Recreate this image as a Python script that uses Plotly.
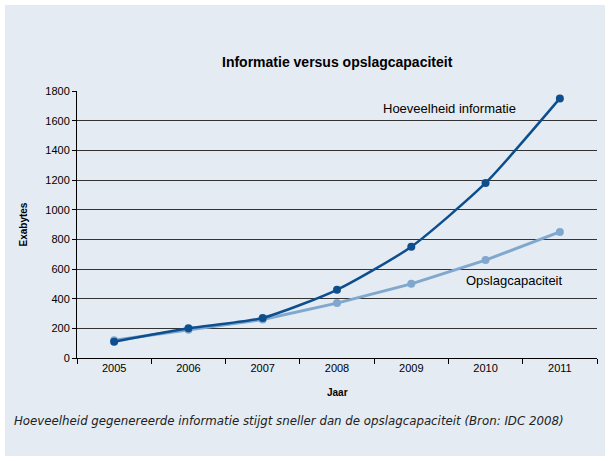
import plotly.graph_objects as go

years = ["2005", "2006", "2007", "2008", "2009", "2010", "2011"]
informatie = [110, 200, 270, 460, 750, 1180, 1750]
opslag = [120, 190, 260, 370, 500, 660, 850]
y_ticks = [0, 200, 400, 600, 800, 1000, 1200, 1400, 1600, 1800]

L, R, T, B = 77, 597, 91, 358
W, H = 610, 461
pw, ph = R - L, B - T

fig = go.Figure()
fig.add_trace(go.Scatter(x=years, y=opslag, mode="lines+markers",
                         line=dict(color="#80A8CF", width=3),
                         marker=dict(size=8, color="#80A8CF"), name="Opslagcapaciteit"))
fig.add_trace(go.Scatter(x=years, y=informatie, mode="lines+markers",
                         line=dict(color="#0D4E8E", width=2.5, shape="spline", smoothing=0.6),
                         marker=dict(size=8, color="#0D4E8E"), name="Hoeveelheid informatie"))

fig.add_shape(type="rect", xref="paper", yref="paper",
              x0=(5 - L) / pw, x1=(605 - L) / pw,
              y0=(B - 456) / ph, y1=(B - 5) / ph,
              fillcolor="#E4EBF2", line=dict(width=0), layer="below")

FONT = "Liberation Sans, Arial, sans-serif"
fig.add_annotation(x=0.5, y=(B - 62) / ph, xref="paper", yref="paper",
                   xanchor="center", yanchor="middle",
                   text="<b>Informatie versus opslagcapaciteit</b>", showarrow=False,
                   font=dict(family=FONT, size=14, color="black"))
fig.add_annotation(x=years.index("2010"), y=1685, text="Hoeveelheid informatie", showarrow=False,
                   xanchor="center", yanchor="middle", xshift=-36,
                   font=dict(family=FONT, size=13, color="black"))
fig.add_annotation(x=years.index("2010"), y=525, text="Opslagcapaciteit", showarrow=False,
                   xanchor="left", yanchor="middle", xshift=-22,
                   font=dict(family=FONT, size=13, color="black"))
fig.add_annotation(x=(12 - L) / pw, y=(B - 421) / ph, xref="paper", yref="paper",
                   xanchor="left", yanchor="middle",
                   text="<i>Hoeveelheid gegenereerde informatie stijgt sneller dan de opslagcapaciteit (Bron: IDC 2008)</i>",
                   showarrow=False, font=dict(family="DejaVu Sans, Verdana", size=11.8, color="#222"))
fig.add_annotation(x=0.5, y=(B - 392) / ph, xref="paper", yref="paper",
                   xanchor="center", yanchor="middle",
                   text="<b>Jaar</b>", showarrow=False,
                   font=dict(family=FONT, size=10, color="black"))
fig.add_annotation(x=(23 - L) / pw, y=0.5, xref="paper", yref="paper", textangle=-90,
                   xanchor="center", yanchor="middle",
                   text="<b>Exabytes</b>", showarrow=False,
                   font=dict(family=FONT, size=10, color="black"))

fig.update_layout(
    width=W, height=H,
    margin=dict(l=L, r=W - R, t=T, b=H - B),
    paper_bgcolor="white", plot_bgcolor="white",
    showlegend=False,
    font=dict(family=FONT, size=11, color="black"),
)
fig.update_xaxes(type="category", range=[-0.5, 6.5], tickson="boundaries",
                 ticks="outside", ticklen=5, tickcolor="black",
                 showline=True, linecolor="black", linewidth=1, showgrid=False,
                 tickfont=dict(size=11))
fig.update_yaxes(range=[0, 1800], tickvals=y_ticks, ticks="outside", ticklen=4,
                 tickcolor="black", showline=True, linecolor="black", linewidth=1,
                 showgrid=True, gridcolor="#333333", gridwidth=1, zeroline=False,
                 tickfont=dict(size=11))

fig.write_html("out.html", config={"displayModeBar": False},
               post_script="document.body.style.margin='0';")
